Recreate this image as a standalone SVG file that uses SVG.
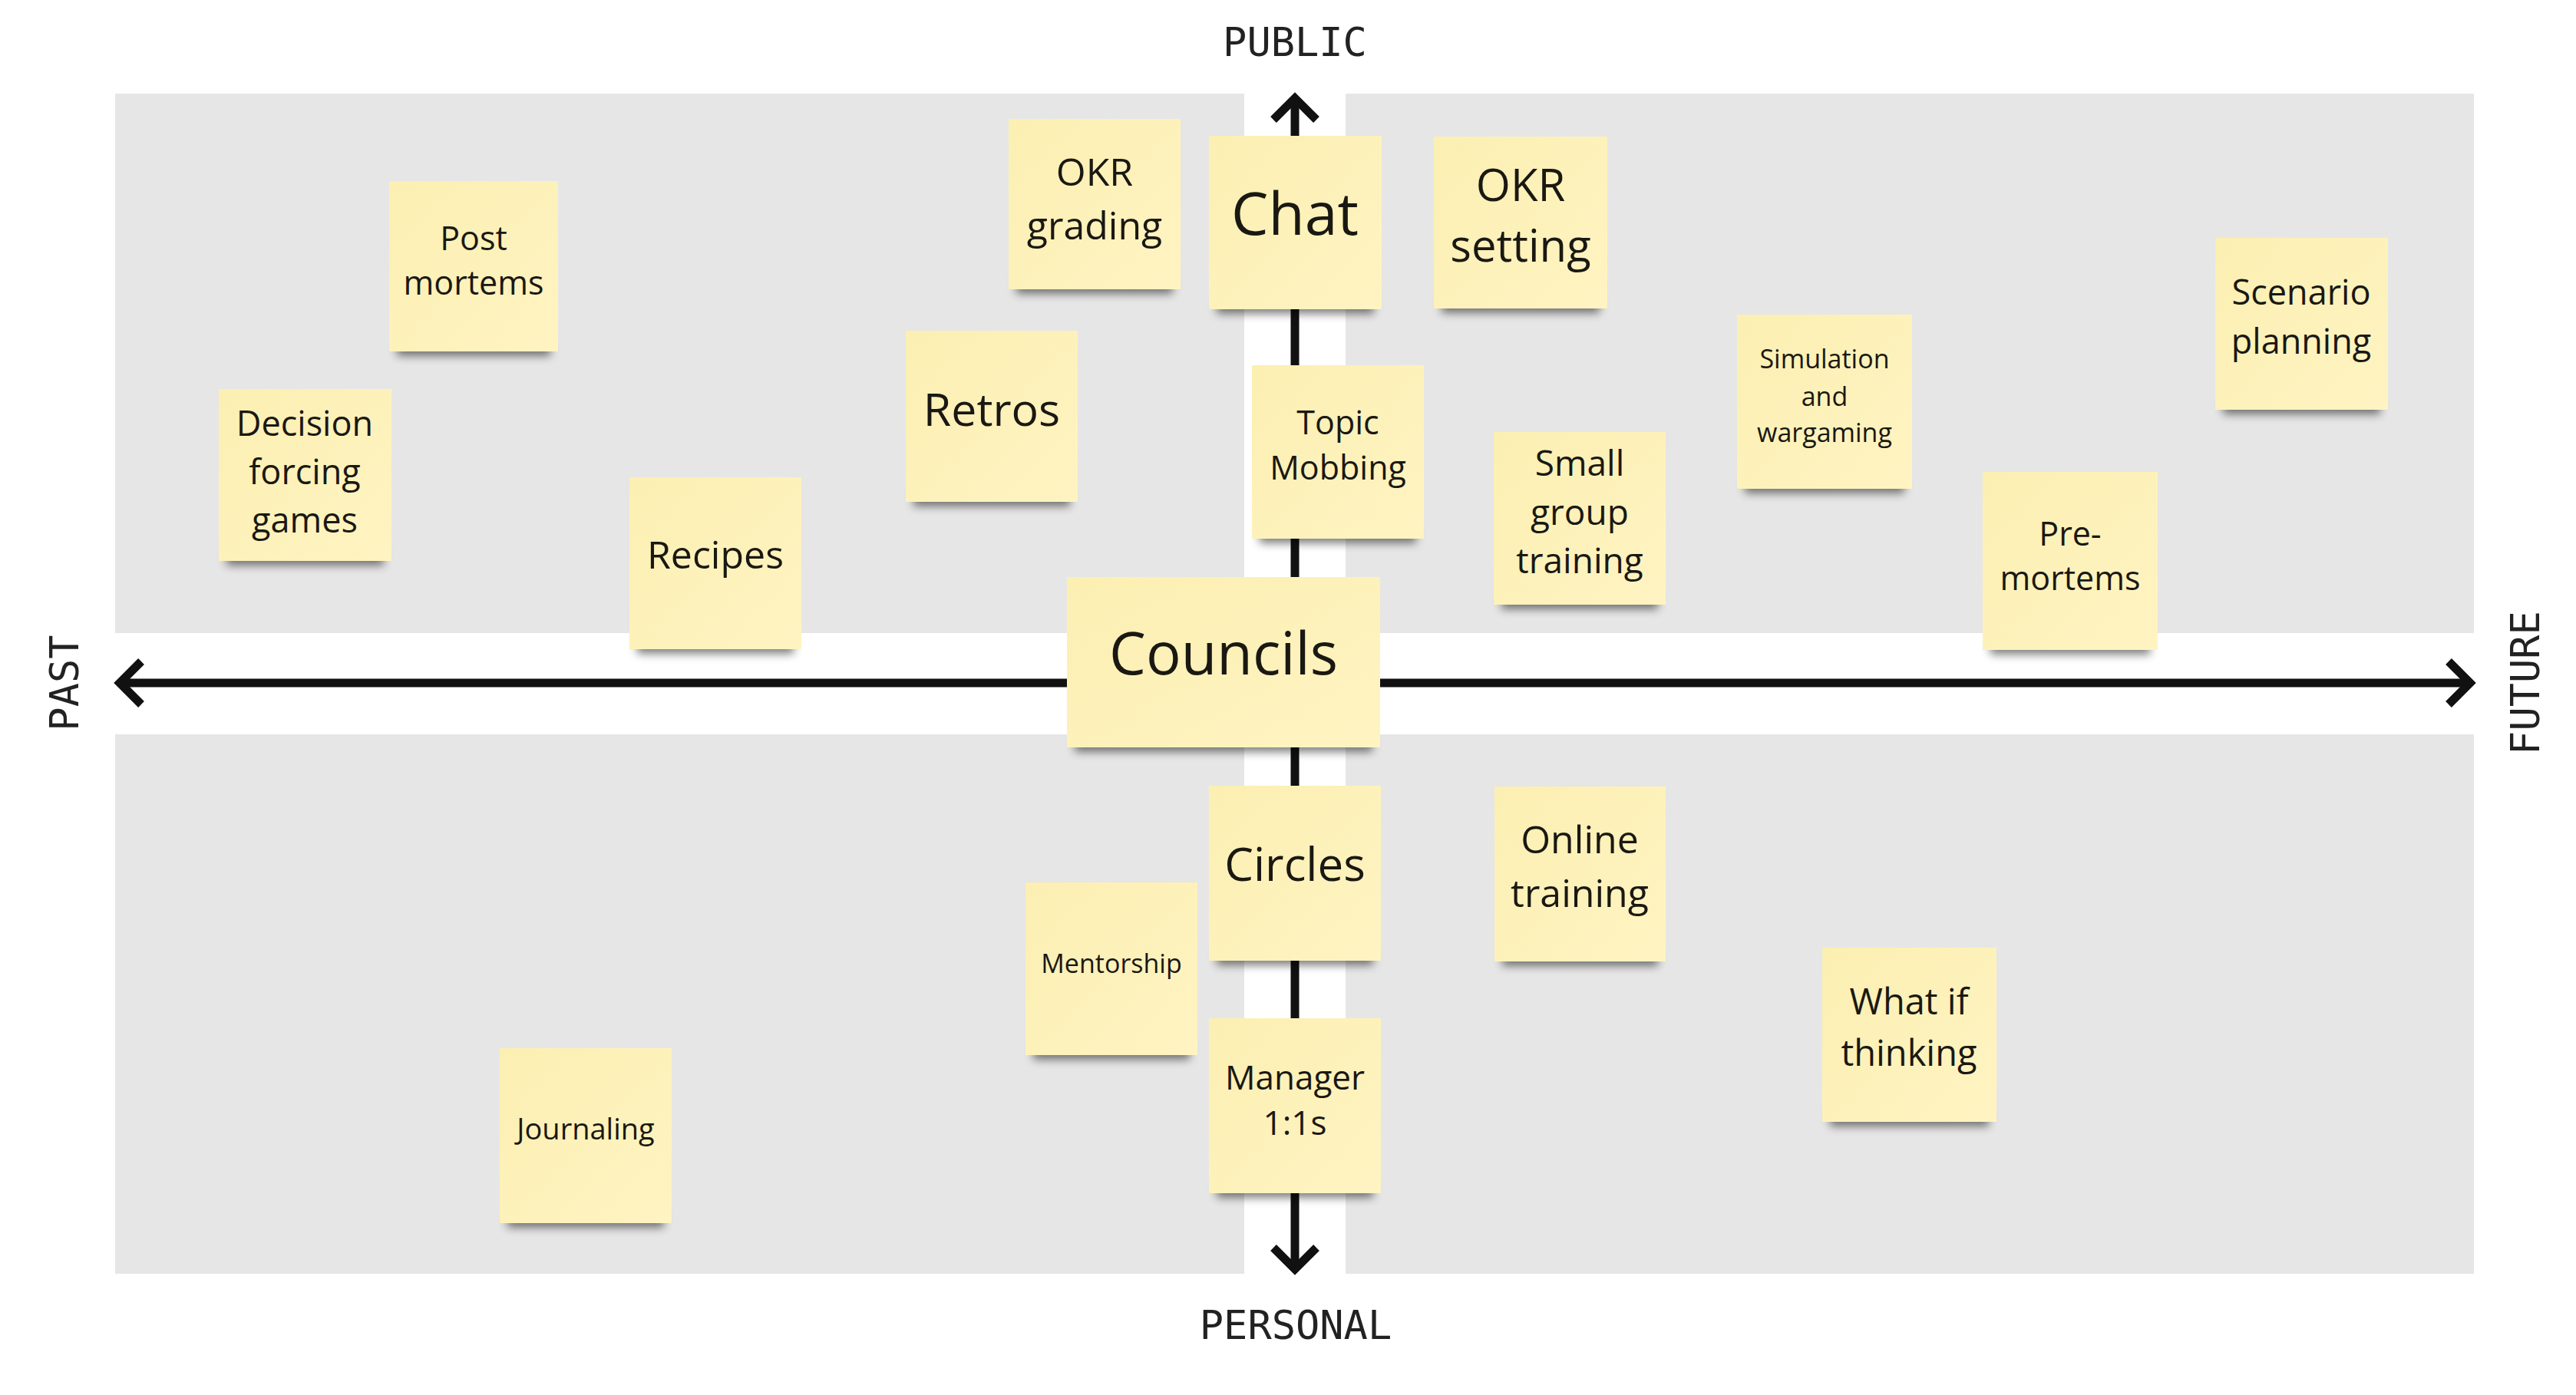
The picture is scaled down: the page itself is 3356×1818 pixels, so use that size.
<svg xmlns="http://www.w3.org/2000/svg" width="3356" height="1818" viewBox="0 0 3356 1818">
<defs>
<linearGradient id="paper" x1="0" y1="0" x2="1" y2="1">
<stop offset="0" stop-color="#FBEFB2"/>
<stop offset="1" stop-color="#FFF4C2"/>
</linearGradient>
<filter id="blur" x="-20%" y="-100%" width="140%" height="300%">
<feGaussianBlur stdDeviation="6"/>
</filter>
<style>
.panel{fill:#E6E6E6}
.axis{stroke:#111;stroke-width:11;fill:none;stroke-linejoin:miter;stroke-linecap:butt}
.lbl{font-family:"DejaVu Sans Mono","Liberation Mono",monospace;font-size:52px;fill:#222;text-anchor:middle}
.sh{fill:#000;opacity:.5;filter:url(#blur)}
.paper{fill:url(#paper)}
.t{font-family:"Open Sans","Noto Sans",sans-serif;fill:#1a1812;text-anchor:middle}
</style>
</defs>
<rect width="3356" height="1818" fill="#fff"/>
<g id="panels">
<rect class="panel" x="150" y="122" width="1471" height="703"/>
<rect class="panel" x="1753" y="122" width="1470" height="703"/>
<rect class="panel" x="150" y="957" width="1471" height="703"/>
<rect class="panel" x="1753" y="957" width="1470" height="703"/>
</g>
<g id="connectors">
<line class="axis" x1="158" y1="890" x2="3217" y2="890"/>
<polyline class="axis" points="184,862 156,890 184,918"/>
<polyline class="axis" points="3190,862 3218,890 3190,918"/>
<line class="axis" x1="1687" y1="131" x2="1687" y2="1651"/>
<polyline class="axis" points="1659,156 1687,128 1715,156"/>
<polyline class="axis" points="1659,1626 1687,1654 1715,1626"/>
</g>
<g id="axis-labels">
<text class="lbl" x="1687" y="73">PUBLIC</text>
<text class="lbl" x="1688" y="1745">PERSONAL</text>
<text class="lbl" x="102" y="890" transform="rotate(-90 102 890)">PAST</text>
<text class="lbl" x="3308" y="890" transform="rotate(-90 3308 890)">FUTURE</text>
</g>
<g id="n-post-mortems">
<rect class="sh" x="517" y="444" width="200" height="20"/>
<rect class="paper" x="507" y="236" width="220" height="222"/>
<text class="t" font-size="43"><tspan x="617" y="326">Post</tspan><tspan x="617" y="384">mortems</tspan></text>
</g>
<g id="n-decision">
<rect class="sh" x="295" y="717" width="205" height="20"/>
<rect class="paper" x="285" y="507" width="225" height="224"/>
<text class="t" font-size="45"><tspan x="397" y="568">Decision</tspan><tspan x="397" y="631">forcing</tspan><tspan x="397" y="694">games</tspan></text>
</g>
<g id="n-recipes">
<rect class="sh" x="830" y="832" width="204" height="20"/>
<rect class="paper" x="820" y="622" width="224" height="224"/>
<text class="t" font-size="50" x="932" y="741">Recipes</text>
</g>
<g id="n-retros">
<rect class="sh" x="1190" y="640" width="204" height="20"/>
<rect class="paper" x="1180" y="431" width="224" height="223"/>
<text class="t" font-size="59" x="1292" y="555">Retros</text>
</g>
<g id="n-okr-grading">
<rect class="sh" x="1324" y="363" width="204" height="20"/>
<rect class="paper" x="1314" y="155" width="224" height="222"/>
<text class="t" font-size="50"><tspan x="1426" y="242">OKR</tspan><tspan x="1426" y="312">grading</tspan></text>
</g>
<g id="n-chat">
<rect class="sh" x="1585" y="389" width="205" height="20"/>
<rect class="paper" x="1575" y="177" width="225" height="226"/>
<text class="t" font-size="77" x="1687" y="306">Chat</text>
</g>
<g id="n-okr-setting">
<rect class="sh" x="1878" y="388" width="206" height="20"/>
<rect class="paper" x="1868" y="178" width="226" height="224"/>
<text class="t" font-size="58"><tspan x="1981" y="262">OKR</tspan><tspan x="1981" y="341">setting</tspan></text>
</g>
<g id="n-topic-mobbing">
<rect class="sh" x="1641" y="688" width="204" height="20"/>
<rect class="paper" x="1631" y="476" width="224" height="226"/>
<text class="t" font-size="43"><tspan x="1743" y="566">Topic</tspan><tspan x="1743" y="625">Mobbing</tspan></text>
</g>
<g id="n-small-group-training">
<rect class="sh" x="1956" y="774" width="204" height="20"/>
<rect class="paper" x="1946" y="563" width="224" height="225"/>
<text class="t" font-size="46"><tspan x="2058" y="620">Small</tspan><tspan x="2058" y="684">group</tspan><tspan x="2058" y="747">training</tspan></text>
</g>
<g id="n-simulation">
<rect class="sh" x="2273" y="623" width="208" height="20"/>
<rect class="paper" x="2263" y="410" width="228" height="227"/>
<text class="t" font-size="34"><tspan x="2377" y="480">Simulation</tspan><tspan x="2377" y="529">and</tspan><tspan x="2377" y="576">wargaming</tspan></text>
</g>
<g id="n-scenario-planning">
<rect class="sh" x="2896" y="520" width="205" height="20"/>
<rect class="paper" x="2886" y="310" width="225" height="224"/>
<text class="t" font-size="45"><tspan x="2998" y="397">Scenario</tspan><tspan x="2998" y="461">planning</tspan></text>
</g>
<g id="n-pre-mortems">
<rect class="sh" x="2593" y="833" width="208" height="20"/>
<rect class="paper" x="2583" y="615" width="228" height="232"/>
<text class="t" font-size="43"><tspan x="2697" y="711">Pre-</tspan><tspan x="2697" y="769">mortems</tspan></text>
</g>
<g id="n-councils">
<rect class="sh" x="1400" y="960" width="388" height="20"/>
<rect class="paper" x="1390" y="752" width="408" height="222"/>
<text class="t" font-size="76" x="1594" y="879">Councils</text>
</g>
<g id="n-circles">
<rect class="sh" x="1585" y="1238" width="204" height="20"/>
<rect class="paper" x="1575" y="1024" width="224" height="228"/>
<text class="t" font-size="60" x="1687" y="1148">Circles</text>
</g>
<g id="n-online-training">
<rect class="sh" x="1957" y="1239" width="203" height="20"/>
<rect class="paper" x="1947" y="1025" width="223" height="228"/>
<text class="t" font-size="50"><tspan x="2058" y="1112">Online</tspan><tspan x="2058" y="1182">training</tspan></text>
</g>
<g id="n-mentorship">
<rect class="sh" x="1346" y="1361" width="204" height="20"/>
<rect class="paper" x="1336" y="1150" width="224" height="225"/>
<text class="t" font-size="34" x="1448" y="1268">Mentorship</text>
</g>
<g id="n-manager">
<rect class="sh" x="1585" y="1541" width="204" height="20"/>
<rect class="paper" x="1575" y="1327" width="224" height="228"/>
<text class="t" font-size="44"><tspan x="1687" y="1420">Manager</tspan><tspan x="1687" y="1479">1:1s</tspan></text>
</g>
<g id="n-what-if">
<rect class="sh" x="2384" y="1448" width="207" height="20"/>
<rect class="paper" x="2374" y="1235" width="227" height="227"/>
<text class="t" font-size="47"><tspan x="2487" y="1322">What if</tspan><tspan x="2487" y="1389">thinking</tspan></text>
</g>
<g id="n-journaling">
<rect class="sh" x="661" y="1580" width="204" height="20"/>
<rect class="paper" x="651" y="1366" width="224" height="228"/>
<text class="t" font-size="38" x="763" y="1485">Journaling</text>
</g>
</svg>
